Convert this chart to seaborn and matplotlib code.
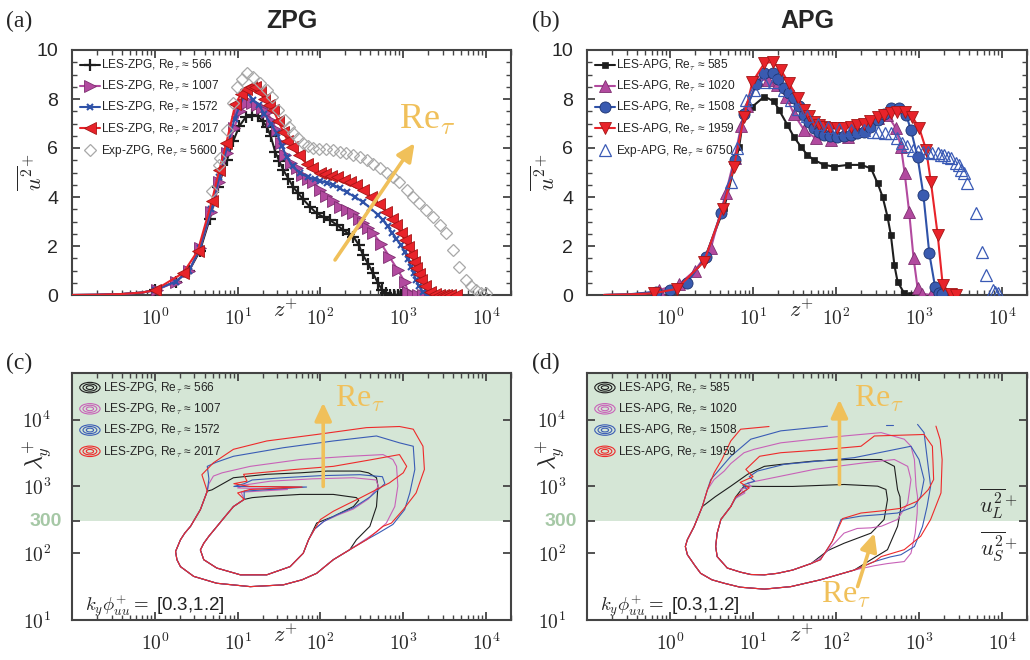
import numpy as np
import pandas as pd
import matplotlib
matplotlib.use("Agg")
import matplotlib.pyplot as plt
import seaborn as sns
from matplotlib.lines import Line2D
from matplotlib.legend_handler import HandlerBase
from matplotlib.patches import Ellipse
from matplotlib.ticker import (FixedLocator, FixedFormatter, LogLocator,
                               NullLocator, NullFormatter, MultipleLocator)

# ---------------------------------------------------------------- data (a)
Z_ZPG566 = [0.1, 0.2, 0.4, 0.7, 1.0, 1.78, 2.6, 3.5, 4.6, 5.8, 7.4, 8.9, 10.5, 12.5, 14.8, 17.5, 20, 22.5, 25, 28.4,
            32, 35.6, 41, 47, 54, 62, 75, 90, 110, 130, 160, 188, 220, 250, 290, 326, 380, 432, 495, 560,
            625, 700, 780, 860, 950]
U_ZPG566 = [0.0, 0.01, 0.04, 0.1, 0.2, 0.54, 1.0, 1.8, 3.1, 4.4, 5.5, 6.3, 6.9, 7.25, 7.35, 7.3, 7.1, 6.87, 6.5, 5.85,
            5.45, 5.1, 4.75, 4.4, 4.15, 3.9, 3.6, 3.33, 3.18, 3.06, 2.85, 2.65, 2.5, 2.38, 2.05, 1.63, 1.25, 0.89, 0.48, 0.2,
            0.07, 0.02, 0.0, 0.0, 0.0]
Z_ZPG1007 = [0.1, 0.2, 0.4, 0.7, 1.05, 1.8, 2.6, 3.5, 4.8, 6.0, 7.4, 9.0, 10.8, 12.9, 15, 17, 19.5, 22.5, 26, 29.6,
             33, 37.6, 44, 51.8, 60, 70, 81.7, 100, 118, 140, 171, 210, 250, 290, 326, 380, 432, 540, 680, 860,
             1040, 1140, 1300, 1500, 1750, 2080]
U_ZPG1007 = [0.0, 0.01, 0.04, 0.1, 0.2, 0.55, 1.0, 1.9, 3.4, 4.6, 5.8, 6.8, 7.5, 7.82, 7.82, 7.76, 7.62, 7.48, 7.1, 6.73,
             6.2, 5.71, 5.4, 5.17, 4.9, 4.75, 4.62, 4.3, 4.05, 3.85, 3.6, 3.45, 3.33, 3.12, 2.93, 2.72, 2.52, 2.1, 1.56, 1.02,
             0.54, 0.14, 0.02, 0.0, 0.0, 0.0]
Z_ZPG1572 = [0.1, 0.2, 0.4, 0.7, 1.0, 1.8, 2.6, 3.5, 4.8, 6.0, 7.4, 9.2, 11.8, 13.5, 15.5, 18, 21, 25, 29.7, 34,
             39, 46, 56.6, 70, 85, 100, 120, 143, 170, 207, 260, 326, 400, 495, 570, 650, 730, 826, 930, 1040,
             1140, 1250, 1330, 1430, 1550, 1730, 2000, 2500]
U_ZPG1572 = [0.0, 0.01, 0.04, 0.1, 0.2, 0.55, 1.0, 1.9, 3.5, 4.8, 6.0, 7.2, 8.1, 8.2, 7.96, 7.75, 7.4, 7.0, 6.6, 6.1,
             5.65, 5.25, 4.97, 4.82, 4.72, 4.65, 4.58, 4.5, 4.35, 4.2, 4.0, 3.8, 3.55, 3.27, 3.05, 2.8, 2.55, 2.3, 2.05, 1.77,
             1.45, 1.16, 0.88, 0.61, 0.35, 0.14, 0.03, 0.0]
Z_ZPG2017 = [0.1, 0.2, 0.4, 0.7, 1.0, 2.2, 3.3, 4.9, 6.0, 7.3, 9.4, 11, 12.7, 14.5, 16.3, 18.5, 21, 24, 27, 31,
             35.5, 40, 45, 55, 68, 80, 98, 113, 135, 157, 190, 226, 272, 330, 413, 510, 626, 730, 826, 930,
             1040, 1140, 1250, 1340, 1430, 1540, 1650, 1850, 2080, 2400, 2700, 3000, 3300, 3700, 4350]
U_ZPG2017 = [0.0, 0.01, 0.04, 0.1, 0.2, 0.9, 1.8, 3.85, 5.1, 6.2, 7.8, 8.2, 8.4, 8.48, 8.48, 8.3, 8.0, 7.75, 7.55, 7.1,
             6.67, 6.3, 6.05, 5.7, 5.35, 5.2, 5.0, 4.95, 4.85, 4.8, 4.7, 4.6, 4.49, 4.3, 4.0, 3.7, 3.4, 3.1, 2.86, 2.55,
             2.24, 1.95, 1.63, 1.35, 1.09, 0.85, 0.61, 0.35, 0.14, 0.04, 0.0, 0.0, 0.0, 0.0, 0.0]
Z_EXPZPG = [4.9, 5.9, 6.2, 7.4, 8.9, 9.8, 11.2, 12.9, 15.5, 18.7, 22.5, 25.8, 31, 37.4, 42, 47, 54, 62, 71, 82,
            95, 118, 140, 171, 205, 250, 300, 360, 430, 518, 630, 755, 900, 1100, 1300, 1570, 1900, 2280, 2750, 3300,
            3950, 4750, 5700, 6600, 7600, 8800, 10000]
U_EXPZPG = [4.25, 5.3, 5.58, 6.73, 7.82, 8.5, 8.8, 9.05, 8.9, 8.64, 8.37, 8.1, 7.55, 7.14, 6.85, 6.6, 6.4, 6.2, 6.08, 5.99,
            5.97, 5.95, 5.9, 5.85, 5.78, 5.71, 5.62, 5.51, 5.35, 5.17, 5.0, 4.83, 4.6, 4.29, 4.0, 3.74, 3.45, 3.2, 2.85, 2.52,
            1.84, 1.16, 0.61, 0.35, 0.2, 0.1, 0.07]

# ---------------------------------------------------------------- data (b)
Z_APG585 = [0.16, 0.3, 0.6, 1.07, 1.6, 2.57, 4.48, 6.8, 7.8, 9.85, 13.7, 18, 20.6, 26, 31, 37.8, 45.3, 54.5, 72, 95,
            138, 200, 264, 317, 364, 417, 458, 505, 552, 664, 800]
U_APG585 = [0.0, 0.02, 0.08, 0.2, 0.55, 1.43, 3.54, 6.05, 7.4, 7.69, 8.1, 7.9, 7.55, 6.94, 6.46, 6.05, 5.71, 5.51, 5.31, 5.24,
            5.31, 5.31, 5.17, 4.56, 4.01, 3.2, 2.45, 1.22, 0.54, 0.07, 0.0]
Z_APG1020 = [0.16, 0.3, 0.5, 0.74, 1.3, 2.0, 3.1, 4.7, 6.0, 7.2, 8.5, 11.3, 15, 19.7, 25, 31, 41.3, 57, 86.6, 138,
             219, 317, 417, 528, 606, 670, 760, 860, 960, 1100, 1400]
U_APG1020 = [0.0, 0.02, 0.06, 0.2, 0.45, 1.0, 1.9, 4.15, 5.6, 6.9, 7.7, 8.78, 8.78, 8.57, 8.1, 7.4, 6.73, 6.4, 6.33, 6.46,
             6.8, 7.21, 7.35, 6.8, 6.05, 5.0, 3.4, 1.5, 0.3, 0.05, 0.0]
Z_APG1508 = [0.16, 0.3, 0.67, 1.0, 1.6, 2.7, 4.1, 6.1, 7.8, 11.0, 13.7, 17.2, 20, 23.7, 27, 31, 36, 41, 47, 54.5,
             62, 72, 85, 104, 125, 150, 180, 219, 260, 317, 380, 458, 580, 700, 800, 960, 1130, 1330, 1560, 1720,
             1900]
U_APG1508 = [0.0, 0.02, 0.13, 0.2, 0.5, 1.56, 3.33, 5.5, 7.4, 8.6, 9.05, 9.05, 8.8, 8.44, 8.25, 8.03, 7.7, 7.35, 7.05, 6.8,
             6.65, 6.53, 6.47, 6.46, 6.48, 6.53, 6.6, 6.67, 6.85, 7.14, 7.4, 7.62, 7.62, 7.35, 6.73, 5.64, 4.08, 1.7, 0.34, 0.09,
             0.04]
Z_APG1959 = [0.16, 0.3, 0.64, 1.2, 2.57, 4.3, 5.9, 7.8, 9.85, 13.7, 17.2, 21.6, 27.3, 34.5, 41.3, 47, 54.5, 62, 72, 85,
             104, 125, 150, 180, 219, 260, 317, 380, 458, 550, 670, 830, 1010, 1220, 1390, 1680, 1930, 2400, 2800]
U_APG1959 = [0.0, 0.02, 0.07, 0.25, 1.36, 3.5, 5.24, 7.28, 8.7, 9.46, 9.52, 9.18, 8.64, 8.03, 7.55, 7.3, 7.07, 6.95, 6.87, 6.82,
             6.8, 6.82, 6.87, 6.93, 7.0, 7.12, 7.28, 7.35, 7.41, 7.45, 7.48, 7.28, 6.8, 5.92, 4.62, 2.45, 0.41, 0.05, 0.0]
Z_EXPAPG = [5.5, 6.5, 8.2, 10.3, 13.7, 18, 23.7, 28.5, 35, 45, 60, 80, 110, 150, 219, 277, 317, 390, 458, 540,
            630, 720, 835, 960, 1110, 1270, 1450, 1690, 1840, 2000, 2220, 2450, 2800, 3060, 3200, 3500, 3800, 4800, 5800, 6400,
            7700, 8300, 9000]
U_EXPAPG = [4.6, 6.0, 7.96, 8.37, 8.7, 8.7, 8.37, 7.96, 7.6, 7.3, 7.0, 6.85, 6.78, 6.73, 6.73, 6.67, 6.67, 6.6, 6.6, 6.4,
            6.19, 6.1, 5.92, 5.88, 5.85, 5.85, 5.8, 5.78, 5.71, 5.7, 5.65, 5.6, 5.37, 5.3, 5.1, 4.97, 4.56, 3.33, 1.77, 0.82,
            0.2, 0.12, 0.07]

# ---------------------------------------------------------------- data (c) contours (z+, lambda_y+)
C_OUT_Z = [4.3, 3.55, 2.7, 2.3, 2.04, 1.78, 1.85, 2.04, 2.95, 5.6, 14.2, 35.6, 60, 90, 143, 226]
C_OUT_L = [850, 450, 253, 200, 159, 106, 80, 63, 45, 35.5, 31.6, 33.6, 40, 50, 80, 113]
C_OUT566_Z = [272, 395, 475, 495, 475, 380, 300, 120, 57, 22.5, 8.9, 4.9, 4.3]
C_OUT566_L = [159, 253, 500, 1010, 1350, 1600, 1700, 1700, 1600, 1520, 1350, 890, 850]
C_OUT1007_Z = [320, 480, 625, 790, 860, 830, 750, 570, 226, 57, 14.2, 6.5, 5.1, 4.5, 4.3]
C_OUT1007_L = [150, 210, 283, 500, 1010, 2000, 2530, 3000, 2830, 2530, 2000, 1600, 1430, 1100, 850]
C_OUT1572_Z = [330, 500, 750, 1040, 1200, 1380, 1320, 900, 475, 143, 35.6, 8.9, 5.5, 4.3, 4.5, 4.3]
C_OUT1572_L = [150, 200, 270, 450, 800, 1800, 4000, 4500, 5700, 4800, 3800, 2830, 2300, 2000, 1300, 850]
C_OUT2017_Z = [360, 570, 720, 1000, 1430, 1800, 1730, 1320, 900, 360, 90, 22.5, 8.9, 5.1, 3.7, 4.3]
C_OUT2017_L = [159, 253, 283, 450, 800, 1800, 4000, 7200, 7900, 7600, 6000, 4800, 3600, 2260, 1500, 850]
C_IN_Z = [12, 8.9, 7, 5.6, 4.5, 3.9, 3.55, 3.9, 5.6, 10.8, 22.5, 43, 62, 72]
C_IN_L = [640, 500, 350, 250, 180, 141, 112, 80, 60, 47.5, 47.5, 63, 100, 160]
C_IN566_Z = [90, 143, 250, 290, 272, 143, 57, 22.5, 15, 12]
C_IN566_L = [283, 355, 500, 620, 680, 760, 760, 710, 680, 640]
C_IN1007_Z = [85, 110, 160, 250, 380, 500, 470, 250, 80, 25, 12, 10, 40, 11, 12]
C_IN1007_L = [230, 300, 370, 460, 650, 1000, 1250, 1350, 1300, 1200, 1050, 950, 900, 820, 640]
C_IN1572_Z = [85, 110, 160, 250, 400, 600, 560, 300, 100, 35, 15, 12, 9, 68, 12, 12]
C_IN1572_L = [230, 300, 380, 480, 700, 1100, 1400, 1500, 1450, 1350, 1250, 1100, 1000, 980, 850, 640]
C_IN2017_Z = [85, 100, 143, 207, 300, 680, 1000, 1100, 900, 400, 143, 50, 18, 11.8, 13, 9, 14, 60, 14, 10, 12]
C_IN2017_L = [230, 320, 425, 535, 670, 1130, 1600, 2000, 3000, 2500, 2000, 1800, 1600, 1520, 1200, 1100, 1000, 980, 900, 800, 640]

# ---------------------------------------------------------------- data (d) contours
D_OUT_Z = [2.45, 1.95, 1.62, 1.53, 1.62, 2.0, 2.34, 3.2, 4.5, 7.0, 13.7, 28.5, 65, 166]
D_OUT_L = [500, 250, 160, 126, 95, 65, 50, 40, 35.5, 31, 29, 31.6, 40, 56]
D_OUT585_Z = [264, 417, 552, 600, 590, 552, 505, 350, 138, 54.5, 21.6, 13.7, 8.6, 5.4, 3.5, 2.45]
D_OUT585_L = [80, 113, 253, 450, 700, 890, 2000, 2530, 2530, 2400, 2140, 2000, 1520, 1010, 700, 500]
D_OUT1020_Z = [290, 417, 664, 800, 900, 950, 960, 920, 880, 800, 664, 350, 125, 54.5, 21.6, 10.3, 7.8, 5.4, 4.5, 3.4, 2.82, 2.45]
D_OUT1020_L = [65, 70, 75, 100, 200, 400, 700, 1010, 2530, 4000, 5100, 6400, 5700, 5100, 4500, 3600, 3200, 2200, 1700, 1270, 890, 500]
D_PRE1508_Z = [79, 21.6, 9.4, 5.4, 3.8, 3.1, 2.82]
D_PRE1508_L = [8000, 6800, 5100, 2830, 1700, 1270, 890]
D_OUT1508_Z = [290, 450, 606, 880, 1100, 1250, 1380, 1260, 1150, 960]
D_OUT1508_L = [75, 88, 95, 126, 250, 500, 1010, 2530, 6400, 8500]
D_DASH1508_Z = [400, 480]
D_DASH1508_L = [8300, 8300]
D_PRE1959_Z = [15.6, 7.1, 5.4, 4.2, 3.4, 2.82]
D_PRE1959_L = [7900, 7200, 4800, 2500, 1600, 890]
D_OUT1959_Z = [290, 350, 664, 1050, 1380, 1840, 1900, 1800, 1600]
D_OUT1959_L = [75, 89, 113, 180, 320, 800, 2530, 5000, 8000]
D_IN_Z = [5.4, 4.1, 3.7, 3.55, 3.7, 4.9, 7.1, 9.4, 13.7, 19.7, 30, 50]
D_IN_L = [500, 320, 200, 126, 89, 60, 52, 48, 47.5, 50, 56, 70]
D_IN585_Z = [80, 125, 264, 380, 417, 400, 317, 125, 30, 12, 7.8, 6.2, 5.4]
D_IN585_L = [110, 141, 200, 320, 635, 900, 1010, 1070, 1000, 1000, 1010, 700, 500]
D_IN1020_Z = [65, 90, 125, 180, 264, 350, 550, 730, 800, 730, 505, 218, 54.5, 13.7, 8.6, 9.5, 7, 8, 6, 5.4]
D_IN1020_L = [85, 130, 200, 235, 240, 253, 320, 560, 1270, 2000, 2530, 2260, 1800, 1270, 1130, 1000, 900, 800, 650, 500]
D_IN1508_Z = [65, 90, 115, 200, 350, 550, 880, 1050, 1150, 1000, 800, 420, 166, 23.7, 11.3, 9, 10.5, 7.5, 8.5, 6.3, 5.4]
D_IN1508_L = [80, 150, 320, 360, 380, 400, 500, 710, 1270, 2530, 4000, 3400, 2700, 2140, 1700, 1400, 1200, 1050, 900, 700, 500]
D_IN1959_Z = [65, 90, 120, 200, 350, 600, 950, 1300, 1500, 1450, 1150, 290, 200, 60, 21.6, 12, 8.2, 10, 7, 9, 6.2, 5.4]
D_IN1959_L = [80, 150, 330, 400, 430, 470, 600, 900, 1270, 4000, 6000, 5700, 4000, 3500, 3200, 2830, 1800, 1400, 1150, 950, 700, 500]

LAB_ZPG = ["LES-ZPG, Re$_\\tau$ ≈ 566", "LES-ZPG, Re$_\\tau$ ≈ 1007", "LES-ZPG, Re$_\\tau$ ≈ 1572",
           "LES-ZPG, Re$_\\tau$ ≈ 2017", "Exp-ZPG, Re$_\\tau$ ≈ 5600"]
LAB_APG = ["LES-APG, Re$_\\tau$ ≈ 585", "LES-APG, Re$_\\tau$ ≈ 1020", "LES-APG, Re$_\\tau$ ≈ 1508",
           "LES-APG, Re$_\\tau$ ≈ 1959", "Exp-APG, Re$_\\tau$ ≈ 6750"]
XTICKS = [1, 10, 100, 1000, 10000]
XTICKLABELS = ["$\\mathsf{10^{0}}$", "$\\mathsf{10^{1}}$", "$\\mathsf{10^{2}}$", "$\\mathsf{10^{3}}$", "$\\mathsf{10^{4}}$"]
LTICKS = [10, 100, 300, 1000, 10000]
LTICKLABELS = ["$\\mathsf{10^{1}}$", "$\\mathsf{10^{2}}$", "", "$\\mathsf{10^{3}}$", "$\\mathsf{10^{4}}$"]

# ---------------------------------------------------------------- style
sns.set_theme(style="ticks")
plt.rcParams["font.family"] = ["Liberation Sans", "DejaVu Sans"]
plt.rcParams["mathtext.fontset"] = "cm"

BLACK = "#1e1e1e"
MAG = "#B24A9F"
BLUE = "#2F52A8"
RED = "#E8232A"
GRAY = "#A8A8A8"
EXPB = "#3A5AB5"
CMAG = "#C862B8"
CBLUE = "#3A5CB5"
CRED = "#EE2A2A"
GOLD = "#F0C05A"
GREEN = "#D5E6D6"
AXC = "#444444"

fig = plt.figure(figsize=(10.3, 6.6), dpi=100)
W, H = 1030.0, 660.0
axA = fig.add_axes([72 / W, 1 - 295 / H, 439 / W, 245 / H])
axB = fig.add_axes([587 / W, 1 - 295 / H, 440 / W, 245 / H])
axC = fig.add_axes([72 / W, 1 - 620 / H, 439 / W, 247 / H])
axD = fig.add_axes([587 / W, 1 - 620 / H, 440 / W, 247 / H])

for ax in (axA, axB, axC, axD):
    ax.set_xscale("log")
for ax in (axC, axD):
    ax.set_yscale("log")


def series(ax, z, u, color, marker, ms, mfc, mec, mew, start, ls="-"):
    df = pd.DataFrame({"z": z, "u": u})
    sns.lineplot(data=df, x="z", y="u", ax=ax, color=color, lw=1.5, linestyle=ls,
                 marker=marker, markersize=ms, markerfacecolor=mfc, mec=mec, mew=mew,
                 markevery=list(range(start, len(z))), estimator=None, sort=False,
                 legend=False, zorder=3)
    return Line2D([0], [0], color=color, lw=1.5, linestyle=ls, marker=marker, markersize=ms,
                  markerfacecolor=mfc, markeredgecolor=mec, markeredgewidth=mew)


def contour(ax, z, l, color, lw=0.8):
    df = pd.DataFrame({"z": z, "l": l})
    sns.lineplot(data=df, x="z", y="l", ax=ax, color=color, lw=lw, estimator=None,
                 sort=False, legend=False, zorder=3)


LEG = dict(loc="upper left", frameon=False, fontsize=8.6, handlelength=1.7,
           handletextpad=0.1, labelspacing=0.52, borderaxespad=0.3, borderpad=0.35)

# ---------------------------------------------------------------- (a)
hA = [
    series(axA, Z_ZPG566, U_ZPG566, BLACK, "+", 8, BLACK, BLACK, 1.6, 4),
    series(axA, Z_ZPG1007, U_ZPG1007, MAG, ">", 8.5, MAG, "#7E2E70", 0.6, 4),
    series(axA, Z_ZPG1572, U_ZPG1572, BLUE, "x", 5, BLUE, BLUE, 1.5, 4),
    series(axA, Z_ZPG2017, U_ZPG2017, RED, "<", 8.5, RED, "#A51515", 0.6, 4),
    series(axA, Z_EXPZPG, U_EXPZPG, GRAY, "D", 6.5, "none", GRAY, 0.9, 0, ls="none"),
]
axA.set_ylim(0, 10)
axA.legend(hA, LAB_ZPG, **LEG)

# ---------------------------------------------------------------- (b)
hB = [
    series(axB, Z_APG585, U_APG585, BLACK, "s", 5, BLACK, BLACK, 0.5, 3),
    series(axB, Z_APG1020, U_APG1020, MAG, "^", 8.5, MAG, "#7E2E70", 0.6, 3),
    series(axB, Z_APG1508, U_APG1508, BLUE, "o", 8, "#3A5BB0", "#1E3470", 0.6, 2),
    series(axB, Z_APG1959, U_APG1959, RED, "v", 8.5, RED, "#A51515", 0.6, 2),
    series(axB, Z_EXPAPG, U_EXPAPG, EXPB, "^", 9, "none", EXPB, 0.9, 0, ls="none"),
]
axB.set_ylim(0, 10)
axB.legend(hB, LAB_APG, **LEG)

# ---------------------------------------------------------------- (c)
cols = [BLACK, CMAG, CBLUE, CRED]
c_out = [(C_OUT566_Z, C_OUT566_L), (C_OUT1007_Z, C_OUT1007_L), (C_OUT1572_Z, C_OUT1572_L), (C_OUT2017_Z, C_OUT2017_L)]
c_in = [(C_IN566_Z, C_IN566_L), (C_IN1007_Z, C_IN1007_L), (C_IN1572_Z, C_IN1572_L), (C_IN2017_Z, C_IN2017_L)]
for col, (oz, ol), (iz, il) in zip(cols, c_out, c_in):
    contour(axC, C_OUT_Z + oz + C_OUT_Z[:1], C_OUT_L + ol + C_OUT_L[:1], col)
    contour(axC, C_IN_Z + iz + C_IN_Z[:1], C_IN_L + il + C_IN_L[:1], col)

# ---------------------------------------------------------------- (d)
contour(axD, D_OUT_Z + D_OUT585_Z, D_OUT_L + D_OUT585_L, BLACK)
contour(axD, D_OUT_Z + D_OUT1020_Z, D_OUT_L + D_OUT1020_L, CMAG)
contour(axD, D_PRE1508_Z + D_OUT_Z + D_OUT1508_Z, D_PRE1508_L + D_OUT_L + D_OUT1508_L, CBLUE)
contour(axD, D_DASH1508_Z, D_DASH1508_L, CBLUE)
contour(axD, D_PRE1959_Z + D_OUT_Z + D_OUT1959_Z, D_PRE1959_L + D_OUT_L + D_OUT1959_L, CRED)
for col, (iz, il) in zip(cols, [(D_IN585_Z, D_IN585_L), (D_IN1020_Z, D_IN1020_L),
                                (D_IN1508_Z, D_IN1508_L), (D_IN1959_Z, D_IN1959_L)]):
    contour(axD, D_IN_Z + iz, D_IN_L + il, col)


class HandlerRings(HandlerBase):
    def create_artists(self, legend, orig_handle, xdescent, ydescent, width, height, fontsize, trans):
        c = orig_handle.get_color()
        cx = 0.5 * width - xdescent
        cy = 0.5 * height - ydescent
        arts = []
        for s in (1.0, 0.68, 0.36):
            arts.append(Ellipse((cx, cy), width * s, height * 1.25 * s, fill=False,
                                edgecolor=c, lw=0.8, transform=trans))
        return arts


for ax, labs in ((axC, LAB_ZPG[:4]), (axD, LAB_APG[:4])):
    proxies = [Line2D([0], [0], color=c) for c in cols]
    leg = dict(LEG)
    leg["handletextpad"] = 0.25
    ax.legend(proxies, labs, handler_map={Line2D: HandlerRings()}, **leg)
    ax.axhspan(300, 5e4, color=GREEN, zorder=0, lw=0)
    ax.set_ylim(10, 5e4)
    ax.text(-0.023, (np.log10(300) - 1) / (np.log10(5e4) - 1), "300", transform=ax.transAxes,
            ha="right", va="center", color="#A6C8A6", fontsize=14, fontweight="bold")
    ax.text(0.03, 0.06, "$k_y\\phi^{+}_{uu}=$ [0.3,1.2]", transform=ax.transAxes, fontsize=13.5,
            ha="left", va="center", color="#222222")

# ---------------------------------------------------------------- axes styling
for ax in (axA, axB, axC, axD):
    ax.set_xlim(0.1, 2e4)
    ax.set_xlabel("")
    ax.set_ylabel("")
    for s in ax.spines.values():
        s.set_color(AXC)
        s.set_linewidth(1.5)
        s.set_visible(True)
    ax.xaxis.set_major_locator(FixedLocator(XTICKS))
    ax.xaxis.set_major_formatter(FixedFormatter(XTICKLABELS))
    ax.xaxis.set_minor_locator(LogLocator(base=10, subs=np.arange(2, 10), numticks=20))
    ax.xaxis.set_minor_formatter(NullFormatter())
    ax.tick_params(which="both", direction="in", top=True, right=True, color=AXC)
    ax.tick_params(which="major", length=6, width=1.3)
    ax.tick_params(which="minor", length=3.5, width=1.0)
    ax.tick_params(axis="x", which="major", labelsize=14, pad=9)
    ax.text(0.487, -0.063, "$z^{+}$", transform=ax.transAxes, fontsize=16, ha="center", va="center")

for ax in (axA, axB):
    ax.yaxis.set_major_locator(FixedLocator([0, 2, 4, 6, 8, 10]))
    ax.yaxis.set_minor_locator(MultipleLocator(0.5))
    ax.tick_params(axis="y", which="major", labelsize=14, pad=10)

for ax in (axC, axD):
    ax.yaxis.set_major_locator(FixedLocator(LTICKS))
    ax.yaxis.set_major_formatter(FixedFormatter(LTICKLABELS))
    ax.yaxis.set_minor_locator(NullLocator())
    ax.tick_params(axis="y", which="major", labelsize=14, pad=15)

# ---------------------------------------------------------------- annotations
arrow = dict(arrowstyle="-|>,head_length=0.9,head_width=0.42", lw=2.6, color=GOLD,
             shrinkA=0, shrinkB=0)
axA.annotate("", xy=(1370, 6.2), xytext=(150, 1.43), arrowprops=arrow, zorder=5)
axA.text(900, 6.8, "Re$_{\\tau}$", color=GOLD, fontsize=26, family="Liberation Serif", ha="left", va="baseline")
axC.annotate("", xy=(108, 1.8e4), xytext=(108, 1000), arrowprops=arrow, zorder=5)
axC.text(149, 1.55e4, "Re$_{\\tau}$", color=GOLD, fontsize=23, family="Liberation Serif", ha="left", va="baseline")
axD.annotate("", xy=(110, 2.0e4), xytext=(110, 1070), arrowprops=arrow, zorder=5)
axD.text(164, 1.58e4, "Re$_{\\tau}$", color=GOLD, fontsize=23, family="Liberation Serif", ha="left", va="baseline")
axD.annotate("", xy=(290, 200), xytext=(182, 31.7), arrowprops=arrow, zorder=5)
axD.text(66, 18, "Re$_{\\tau}$", color=GOLD, fontsize=23, family="Liberation Serif", ha="left", va="baseline")

axD.text(0.936, 0.474, "$\\overline{u_L^2}^{+}$", transform=axD.transAxes, fontsize=16, ha="center", va="center")
axD.text(0.936, 0.30, "$\\overline{u_S^2}^{+}$", transform=axD.transAxes, fontsize=16, ha="center", va="center")

# y labels
fig.text(33 / W, 1 - 172 / H, "$\\overline{u^2}^{+}$", rotation=90, fontsize=16, ha="center", va="center")
fig.text(546 / W, 1 - 172 / H, "$\\overline{u^2}^{+}$", rotation=90, fontsize=16, ha="center", va="center")
fig.text(38 / W, 1 - 455 / H, "$\\lambda_y^{+}$", rotation=90, fontsize=17, ha="center", va="center")
fig.text(551 / W, 1 - 455 / H, "$\\lambda_y^{+}$", rotation=90, fontsize=17, ha="center", va="center")

# titles and panel labels
fig.text(292 / W, 1 - 21 / H, "ZPG", fontsize=18, fontweight="bold", ha="center", va="center")
fig.text(807 / W, 1 - 21 / H, "APG", fontsize=18, fontweight="bold", ha="center", va="center")
for x, y, t in ((6, 21, "(a)"), (532, 21, "(b)"), (6, 363, "(c)"), (532, 363, "(d)")):
    fig.text(x / W, 1 - y / H, t, fontsize=17, family="Liberation Serif", ha="left", va="center")

fig.savefig("out.png", dpi=100)
